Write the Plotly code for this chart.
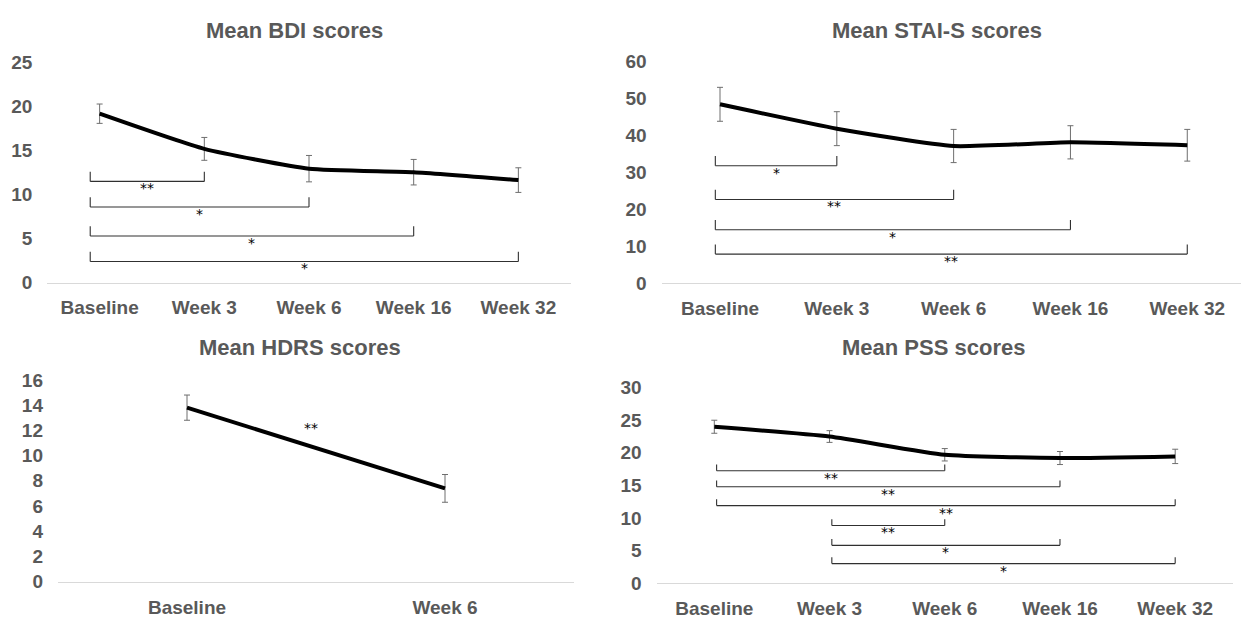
import plotly.graph_objects as go

W, H = 1241, 628

# ---- data -------------------------------------------------------------
weeks = ["Baseline", "Week 3", "Week 6", "Week 16", "Week 32"]
hdrs_weeks = ["Baseline", "Week 6"]

bdi_mean = [19.2, 15.2, 12.95, 12.55, 11.65]
bdi_err = [1.1, 1.3, 1.5, 1.45, 1.4]

stai_mean = [48.4, 41.8, 37.1, 38.1, 37.3]
stai_err = [4.6, 4.6, 4.5, 4.5, 4.3]

hdrs_mean = [13.8, 7.4]
hdrs_err = [1.0, 1.1]

pss_mean = [24.0, 22.5, 19.7, 19.2, 19.45]
pss_err = [1.0, 0.9, 0.95, 1.0, 1.1]

# significance: (from index, to index, bracket level, label)
bdi_sig = [(0, 1, 11.5, "**"), (0, 2, 8.6, "*"), (0, 3, 5.3, "*"), (0, 4, 2.4, "*")]
stai_sig = [(0, 1, 31.75, "*"), (0, 2, 22.6, "**"), (0, 3, 14.4, "*"), (0, 4, 7.8, "**")]
hdrs_sig = [(0, 1, 12.4, "**")]
pss_sig = [(0, 2, 17.25, "**"), (0, 3, 14.8, "**"), (0, 4, 11.9, "**"),
           (1, 2, 8.85, "**"), (1, 3, 5.8, "*"), (1, 4, 3.0, "*")]

# ---- styling ------------------------------------------------------------
FONT = "Liberation Sans, Arial, sans-serif"
STAR_FONT = "DejaVu Sans, sans-serif"
GREY = "#595959"

panels = [
    dict(title="Mean BDI scores", cats=weeks, mean=bdi_mean, err=bdi_err, sig=bdi_sig,
         px_x=(47.3, 570.7), px_y=(54.5, 282.0), ymax=25, dtick=5,
         xr=None, title_xy=(294, 21), tip=10, left=-0.09, bracket=True),
    dict(title="Mean STAI-S scores", cats=weeks, mean=stai_mean, err=stai_err, sig=stai_sig,
         px_x=(661.6, 1241.0), px_y=(53.3, 282.3), ymax=60, dtick=10,
         xr=(-0.5, 4.46), title_xy=(937, 21), tip=10, left=-0.04, bracket=True),
    dict(title="Mean HDRS scores", cats=hdrs_weeks, mean=hdrs_mean, err=hdrs_err, sig=hdrs_sig,
         px_x=(58.0, 574.0), px_y=(382.7, 591.5), ymax=16, dtick=2,
         xr=None, title_xy=(300, 349), tip=0, left=0.0, bracket=False),
    dict(title="Mean PSS scores", cats=weeks, mean=pss_mean, err=pss_err, sig=pss_sig,
         px_x=(656.7, 1232.8), px_y=(390.7, 593.0), ymax=30, dtick=5,
         xr=None, title_xy=(933.5, 349), tip=6.5, left=0.02, bracket=True),
]

fig = go.Figure()
shapes, annotations = [], []

for i, p in enumerate(panels, start=1):
    xa = "x" if i == 1 else f"x{i}"
    ya = "y" if i == 1 else f"y{i}"
    idx = list(range(len(p["cats"])))

    fig.add_trace(go.Scatter(
        x=idx, y=p["mean"], xaxis=xa, yaxis=ya, mode="lines",
        line=dict(color="black", width=4, shape="spline", smoothing=0.5),
        error_y=dict(type="data", array=p["err"], visible=True,
                     color="#6e6e6e", thickness=1, width=3),
        showlegend=False, hoverinfo="skip",
    ))

    x0p, x1p = p["px_x"]
    ytop, ybot = p["px_y"]
    xr = p["xr"] if p["xr"] else (-0.5, len(idx) - 0.5)
    layout_x = dict(
        domain=[x0p / W, x1p / W], range=list(xr), anchor=ya,
        tickmode="array", tickvals=idx, ticktext=p["cats"],
        showline=True, linecolor="#d9d9d9", linewidth=1, showgrid=False,
        zeroline=False, ticks="", ticklabelstandoff=8,
        tickfont=dict(family=FONT, size=19, color=GREY, weight="bold"),
        fixedrange=True,
    )
    layout_y = dict(
        domain=[(H - ybot) / H, (H - ytop) / H], range=[0, p["ymax"]], anchor=xa,
        dtick=p["dtick"], tick0=0, showline=False, showgrid=False, zeroline=False,
        ticks="", ticklabelstandoff=14,
        tickfont=dict(family=FONT, size=19, color=GREY, weight="bold"),
        fixedrange=True,
    )
    fig.update_layout(**{("xaxis" if i == 1 else f"xaxis{i}"): layout_x,
                         ("yaxis" if i == 1 else f"yaxis{i}"): layout_y})

    # panel title
    annotations.append(dict(
        text=p["title"], xref="paper", yref="paper",
        x=p["title_xy"][0] / W, y=(H - p["title_xy"][1]) / H,
        xanchor="center", yanchor="middle", showarrow=False,
        font=dict(family=FONT, size=22, color=GREY, weight="bold"),
    ))

    # significance brackets and asterisks
    units_per_px = p["ymax"] / (ybot - ytop)
    star_font = dict(family=STAR_FONT, size=14, color="black")
    for a, b, lvl, lab in p["sig"]:
        xa0 = a + p["left"]
        xa1 = b
        if p["bracket"]:
            tip = lvl + p["tip"] * units_per_px
            line = dict(color="#303030", width=1.1)
            shapes.append(dict(type="line", xref=xa, yref=ya, x0=xa0, x1=xa1, y0=lvl, y1=lvl, line=line))
            shapes.append(dict(type="line", xref=xa, yref=ya, x0=xa0, x1=xa0, y0=lvl, y1=tip, line=line))
            shapes.append(dict(type="line", xref=xa, yref=ya, x0=xa1, x1=xa1, y0=lvl, y1=tip, line=line))
            annotations.append(dict(
                text=lab, xref=xa, yref=ya, x=(xa0 + xa1) / 2, y=lvl,
                xanchor="center", yanchor="middle", showarrow=False, yshift=-7,
                font=star_font,
            ))
        else:
            annotations.append(dict(
                text=lab, xref=xa, yref=ya, x=(a + b) / 2 - 0.02, y=lvl,
                xanchor="center", yanchor="middle", showarrow=False, yshift=-3,
                font=star_font,
            ))

fig.update_layout(
    width=W, height=H, margin=dict(l=0, r=0, t=0, b=0),
    paper_bgcolor="white", plot_bgcolor="white",
    shapes=shapes, annotations=annotations, showlegend=False,
)

fig.write_html("out.html", config={"displayModeBar": False})
